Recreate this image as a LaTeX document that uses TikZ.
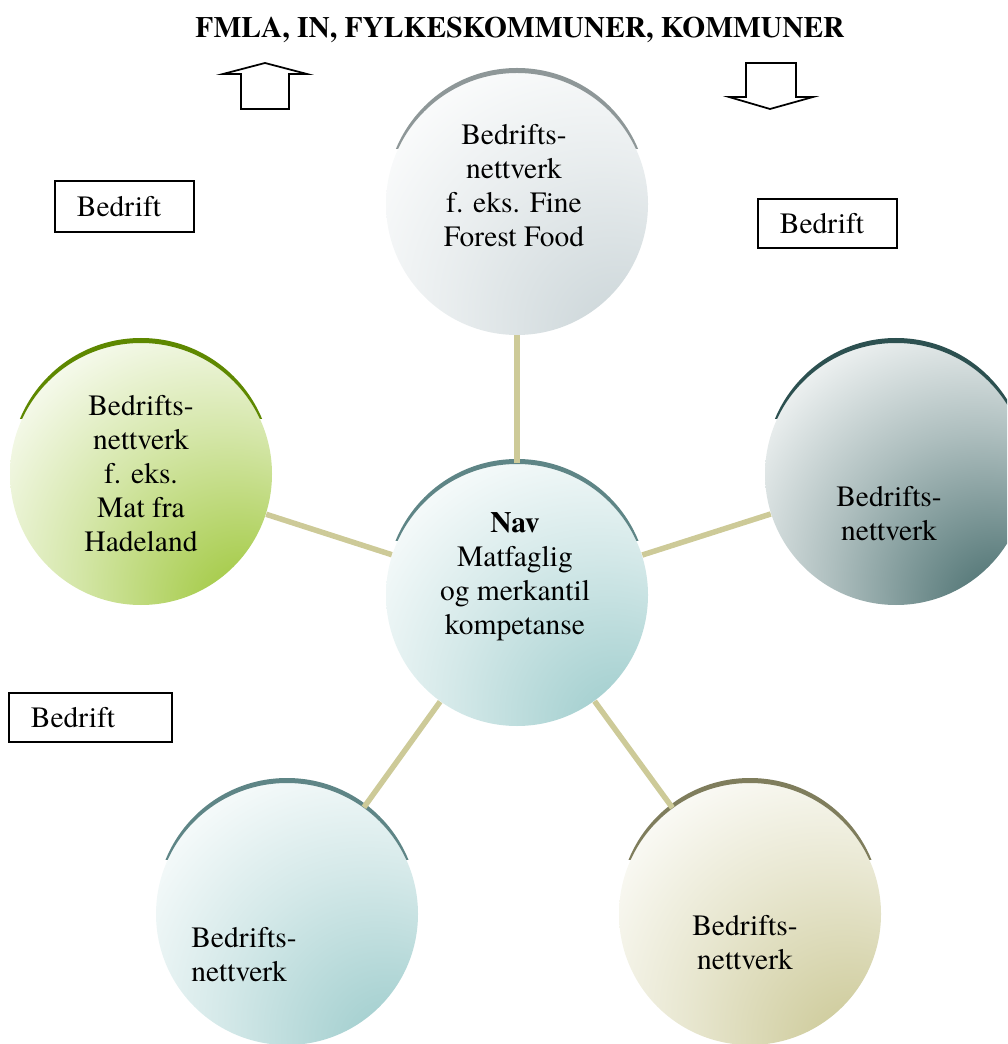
\documentclass[tikz,border=0pt]{standalone}
\usepackage{fontspec}
\setmainfont{texgyretermes-regular.otf}[BoldFont=texgyretermes-bold.otf,
  ItalicFont=texgyretermes-italic.otf]
\usepackage{xcolor}
\definecolor{nwSpoke}{HTML}{CDCA98}
\definecolor{nwGrey}{HTML}{CCD6D9}
\definecolor{nwGreyRim}{HTML}{8E9798}
\definecolor{nwTeal}{HTML}{9FCDCD}
\definecolor{nwTealRim}{HTML}{5E8586}
\definecolor{nwGreen}{HTML}{A0C83E}
\definecolor{nwGreenRim}{HTML}{5E8800}
\definecolor{nwSlate}{HTML}{4A6F6F}
\definecolor{nwSlateRim}{HTML}{2C5050}
\definecolor{nwKhaki}{HTML}{CCC997}
\definecolor{nwKhakiRim}{HTML}{7F7D5C}
\usepackage{tikz}
\usetikzlibrary{calc}

\newdimen\unitpx \unitpx=0.4pt
\newcommand{\netfont}{\fontsize{11.8}{13.6}\selectfont}

% fill of a network ball: colour low right, white to the left
\newcommand{\netshade}[2]{%
  \pgfdeclareradialshading{#1}{\pgfpoint{22bp}{-28bp}}{%
    color(0bp)=(#2); color(8bp)=(#2!90!white); color(28bp)=(#2!45!white);
    color(46bp)=(#2!8!white); color(54bp)=(white); color(100bp)=(white)}}
\netshade{greyball}{nwGrey}
\netshade{tealball}{nwTeal}
\netshade{greenball}{nwGreen}
\netshade{slateball}{nwSlate}
\netshade{khakiball}{nwKhaki}

% dark crescent on top of a ball
\newcommand{\netrim}[2]{%
  \begin{scope}
    \clip ($(#1.center)+(-140,-140)$) rectangle ($(#1.center)+(140,-55)$);
    \fill[#2, even odd rule] ($(#1.center)+(0,-5)$) circle[radius=131]
      (#1.center) circle[radius=131];
  \end{scope}}

\begin{document}
\begin{tikzpicture}[x=\unitpx, y=-\unitpx,
      every node/.style={font=\netfont},
      ball/.style={circle, minimum size=262\unitpx, inner sep=0pt,
                   shade, shading=#1},
      txt/.style={align=center, inner sep=0pt},
      bedrift/.style={draw, line width=0.7pt, anchor=north west,
                      inner xsep=22\unitpx, inner ysep=0pt, align=left},
      hollow/.style={draw, line width=0.7pt, fill=white, line join=miter},
      spoke/.style={nwSpoke, line width=5.5\unitpx},
    ]
    \useasboundingbox (0,0) rectangle (1007,1044);
    \clip (0,0) rectangle (1007,1044);

    % Title and arrows
    \node[font={\netfont\bfseries}] (title) at (520,30) {FMLA, IN, FYLKESKOMMUNER, KOMMUNER};
    \draw[hollow] (241,109) -- (241,74) -- (223,74) -- (265,63) -- (307,74)
      -- (289,74) -- (289,109) -- cycle;
    \draw[hollow] (746,63) -- (796,63) -- (796,97) -- (813,97) -- (770,109)
      -- (729,97) -- (746,97) -- cycle;

    % Balls
    \node[ball=greyball] (fff) at (517,204) {};
    \node[ball=tealball] (nav) at (517,595) {};
    \node[ball=greenball] (mfh) at (141,474) {};
    \node[ball=slateball] (netR) at (896,474) {};
    \node[ball=tealball] (netBL) at (287,914) {};
    \node[ball=khakiball] (netBR) at (750,914) {};

    \netrim{fff}{nwGreyRim}
    \netrim{nav}{nwTealRim}
    \netrim{mfh}{nwGreenRim}
    \netrim{netR}{nwSlateRim}
    \netrim{netBL}{nwTealRim}
    \netrim{netBR}{nwKhakiRim}

    % Spokes
    \draw[spoke] (nav) -- (fff);
    \draw[spoke] (nav) -- (mfh);
    \draw[spoke] (nav) -- (netR);
    \draw[spoke] (nav) -- (netBL);
    \draw[spoke] (nav) -- (netBR);

    % Texts
    \node[txt] (fffTxt) at ($(fff)+(-3,-18)$) {Bedrifts-\\nettverk\\f. eks. Fine\\Forest Food};
    \node[txt] (navTxt) at ($(nav)+(-2,-18)$) {\textbf{Nav}\\Matfaglig\\og merkantil\\kompetanse};
    \node[txt] (mfhTxt) at (mfh) {Bedrifts-\\nettverk\\f. eks.\\Mat fra\\Hadeland};
    \node[txt] (netRTxt) at ($(netR)+(-7,40)$) {Bedrifts-\\nettverk};
    \node[txt, align=left] (netBLTxt) at ($(netBL)+(-43,41)$) {Bedrifts-\\nettverk};
    \node[txt] (netBRTxt) at ($(netBR)+(-5,29)$) {Bedrifts-\\nettverk};

    % Loose companies
    \node[bedrift, text width=95\unitpx, minimum height=51\unitpx] (bedA) at (54,180) {Bedrift};
    \node[bedrift, text width=95\unitpx, minimum height=49\unitpx] (bedB) at (757,198) {Bedrift};
    \node[bedrift, text width=119\unitpx, minimum height=49\unitpx] (bedC) at (8,692) {Bedrift};

  \end{tikzpicture}
\end{document}
